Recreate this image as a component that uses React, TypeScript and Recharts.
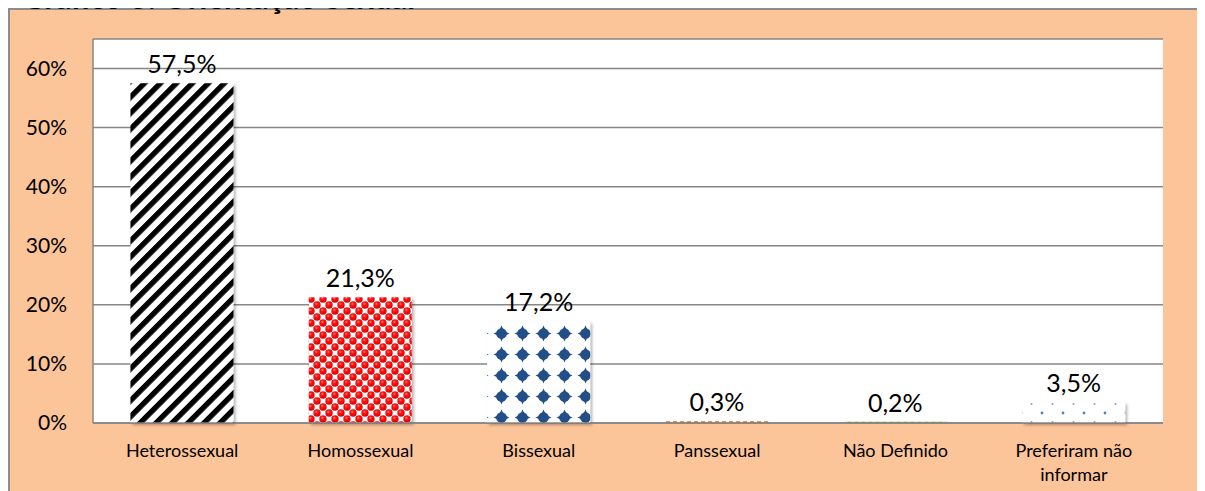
import React from "react";
import { BarChart, Bar, XAxis, YAxis, CartesianGrid, Cell, LabelList, Text } from "recharts";

const categories = ["Heterossexual", "Homossexual", "Bissexual", "Panssexual", "Não Definido", "Preferiram não informar"];
const values = [0.575, 0.213, 0.172, 0.003, 0.002, 0.035];
const yTicks = [0, 0.1, 0.2, 0.3, 0.4, 0.5, 0.6];
const title = "Gráfico 3: Orientação Sexual";

const fills = ["url(#pStripes)", "url(#pRed)", "url(#pDiamond)", "url(#pOrange)", "url(#pGreen)", "url(#pDots)"];

const data = categories.map((name, i) => ({ name, value: values[i] }));

const FONT = "Lato, 'Open Sans', sans-serif";
const GRID = "#868686";

const CatTick = (props: any) => {
  const { x, y, payload } = props;
  return (
    <Text
      x={x}
      y={y + 21}
      width={140}
      textAnchor="middle"
      verticalAnchor="start"
      lineHeight={24}
      fontSize={18}
      fontFamily={FONT}
      fill="#000"
    >
      {payload.value}
    </Text>
  );
};

const fmtPct = (v: number) => (v * 100).toFixed(1).replace(".", ",") + "%";

export default function App() {
  return (
    <div
      style={{
        position: "relative",
        width: 1197,
        height: 483,
        background: "#FCC499",
        boxShadow: "inset 2px 2px 0 #8c8c8c",
        fontFamily: FONT,
      }}
    >
      <BarChart
        width={1197}
        height={483}
        data={data}
        margin={{ top: 31, right: 42, bottom: 8, left: 0 }}
        barCategoryGap="21%"
        style={{ position: "absolute", left: 0, top: 0 }}
      >
        <defs>
          <pattern id="pStripes" patternUnits="userSpaceOnUse" width="11.3" height="11.3" patternTransform="rotate(45)">
            <rect x="0" y="0" width="11.3" height="11.3" fill="#fff" />
            <rect x="0" y="0" width="5.4" height="11.3" fill="#000" />
          </pattern>
          <radialGradient id="ball" cx="0.4" cy="0.35" r="0.65">
            <stop offset="0" stopColor="#ff9090" />
            <stop offset="0.35" stopColor="#ff1010" />
            <stop offset="1" stopColor="#e00000" />
          </radialGradient>
          <pattern id="pRed" patternUnits="userSpaceOnUse" width="12" height="12">
            <rect x="0" y="0" width="12" height="12" fill="#fff" />
            <circle cx="3" cy="3" r="3.7" fill="url(#ball)" />
            <circle cx="9" cy="9" r="3.7" fill="url(#ball)" />
            <circle cx="15" cy="3" r="3.7" fill="url(#ball)" />
            <circle cx="3" cy="15" r="3.7" fill="url(#ball)" />
            <circle cx="9" cy="-3" r="3.7" fill="url(#ball)" />
            <circle cx="-3" cy="9" r="3.7" fill="url(#ball)" />
          </pattern>
          <pattern id="pDiamond" patternUnits="userSpaceOnUse" width="21" height="21">
            <rect x="0" y="0" width="21" height="21" fill="#fff" />
            <path d="M10.5 2.5 Q12.5 8.5 18.5 10.5 Q12.5 12.5 10.5 18.5 Q8.5 12.5 2.5 10.5 Q8.5 8.5 10.5 2.5 Z" fill="#234F87" />
            <circle cx="10.5" cy="10.5" r="5.3" fill="#234F87" />
          </pattern>
          <pattern id="pOrange" patternUnits="userSpaceOnUse" width="7" height="7">
            <rect x="0" y="0" width="4" height="7" fill="#E46C0A" />
          </pattern>
          <pattern id="pGreen" patternUnits="userSpaceOnUse" width="7" height="7">
            <rect x="0" y="0" width="7" height="7" fill="#9BBB59" />
            <rect x="0" y="0" width="3" height="7" fill="#4F9A4F" />
          </pattern>
          <pattern id="pDots" patternUnits="userSpaceOnUse" width="21" height="18">
            <rect x="0" y="0" width="21" height="18" fill="#fff" />
            <circle cx="5" cy="9" r="1.4" fill="#4F81BD" />
            <circle cx="15.5" cy="0" r="1" fill="#7F9FCD" />
            <circle cx="15.5" cy="18" r="1" fill="#7F9FCD" />
          </pattern>
          <filter id="shadow" x="-10%" y="-10%" width="130%" height="140%">
            <feDropShadow dx="2" dy="2" stdDeviation="1.5" floodColor="#000" floodOpacity="0.3" />
          </filter>
        </defs>
        <CartesianGrid vertical={false} fill="#fff" stroke={GRID} strokeWidth={1.5} />
        <XAxis
          dataKey="name"
          interval={0}
          height={60}
          tick={<CatTick />}
          tickLine={false}
          tickSize={0}
          tickMargin={0}
          axisLine={{ stroke: GRID, strokeWidth: 1.5 }}
        />
        <YAxis
          width={85}
          domain={[0, 0.65]}
          ticks={yTicks}
          tickFormatter={(v: number) => Math.round(v * 100) + "%"}
          tick={{ fontSize: 21, fill: "#000", fontFamily: FONT }}
          tickLine={false}
          tickSize={0}
          tickMargin={26}
          axisLine={{ stroke: GRID, strokeWidth: 1.5 }}
        />
        <Bar dataKey="value" isAnimationActive={false}>
          {data.map((d, i) => (
            <Cell key={d.name} fill={fills[i]} filter="url(#shadow)" />
          ))}
          <LabelList
            dataKey="value"
            position="top"
            offset={10}
            formatter={(v: any) => fmtPct(Number(v))}
            style={{ fontSize: 25, fill: "#000", fontFamily: FONT }}
          />
        </Bar>
      </BarChart>
      <div
        style={{
          position: "absolute",
          left: 14,
          top: -26,
          fontSize: 31,
          lineHeight: "31px",
          fontWeight: 700,
          whiteSpace: "nowrap",
          color: "#000",
          zIndex: 2,
        }}
      >
        {title}
      </div>
    </div>
  );
}
